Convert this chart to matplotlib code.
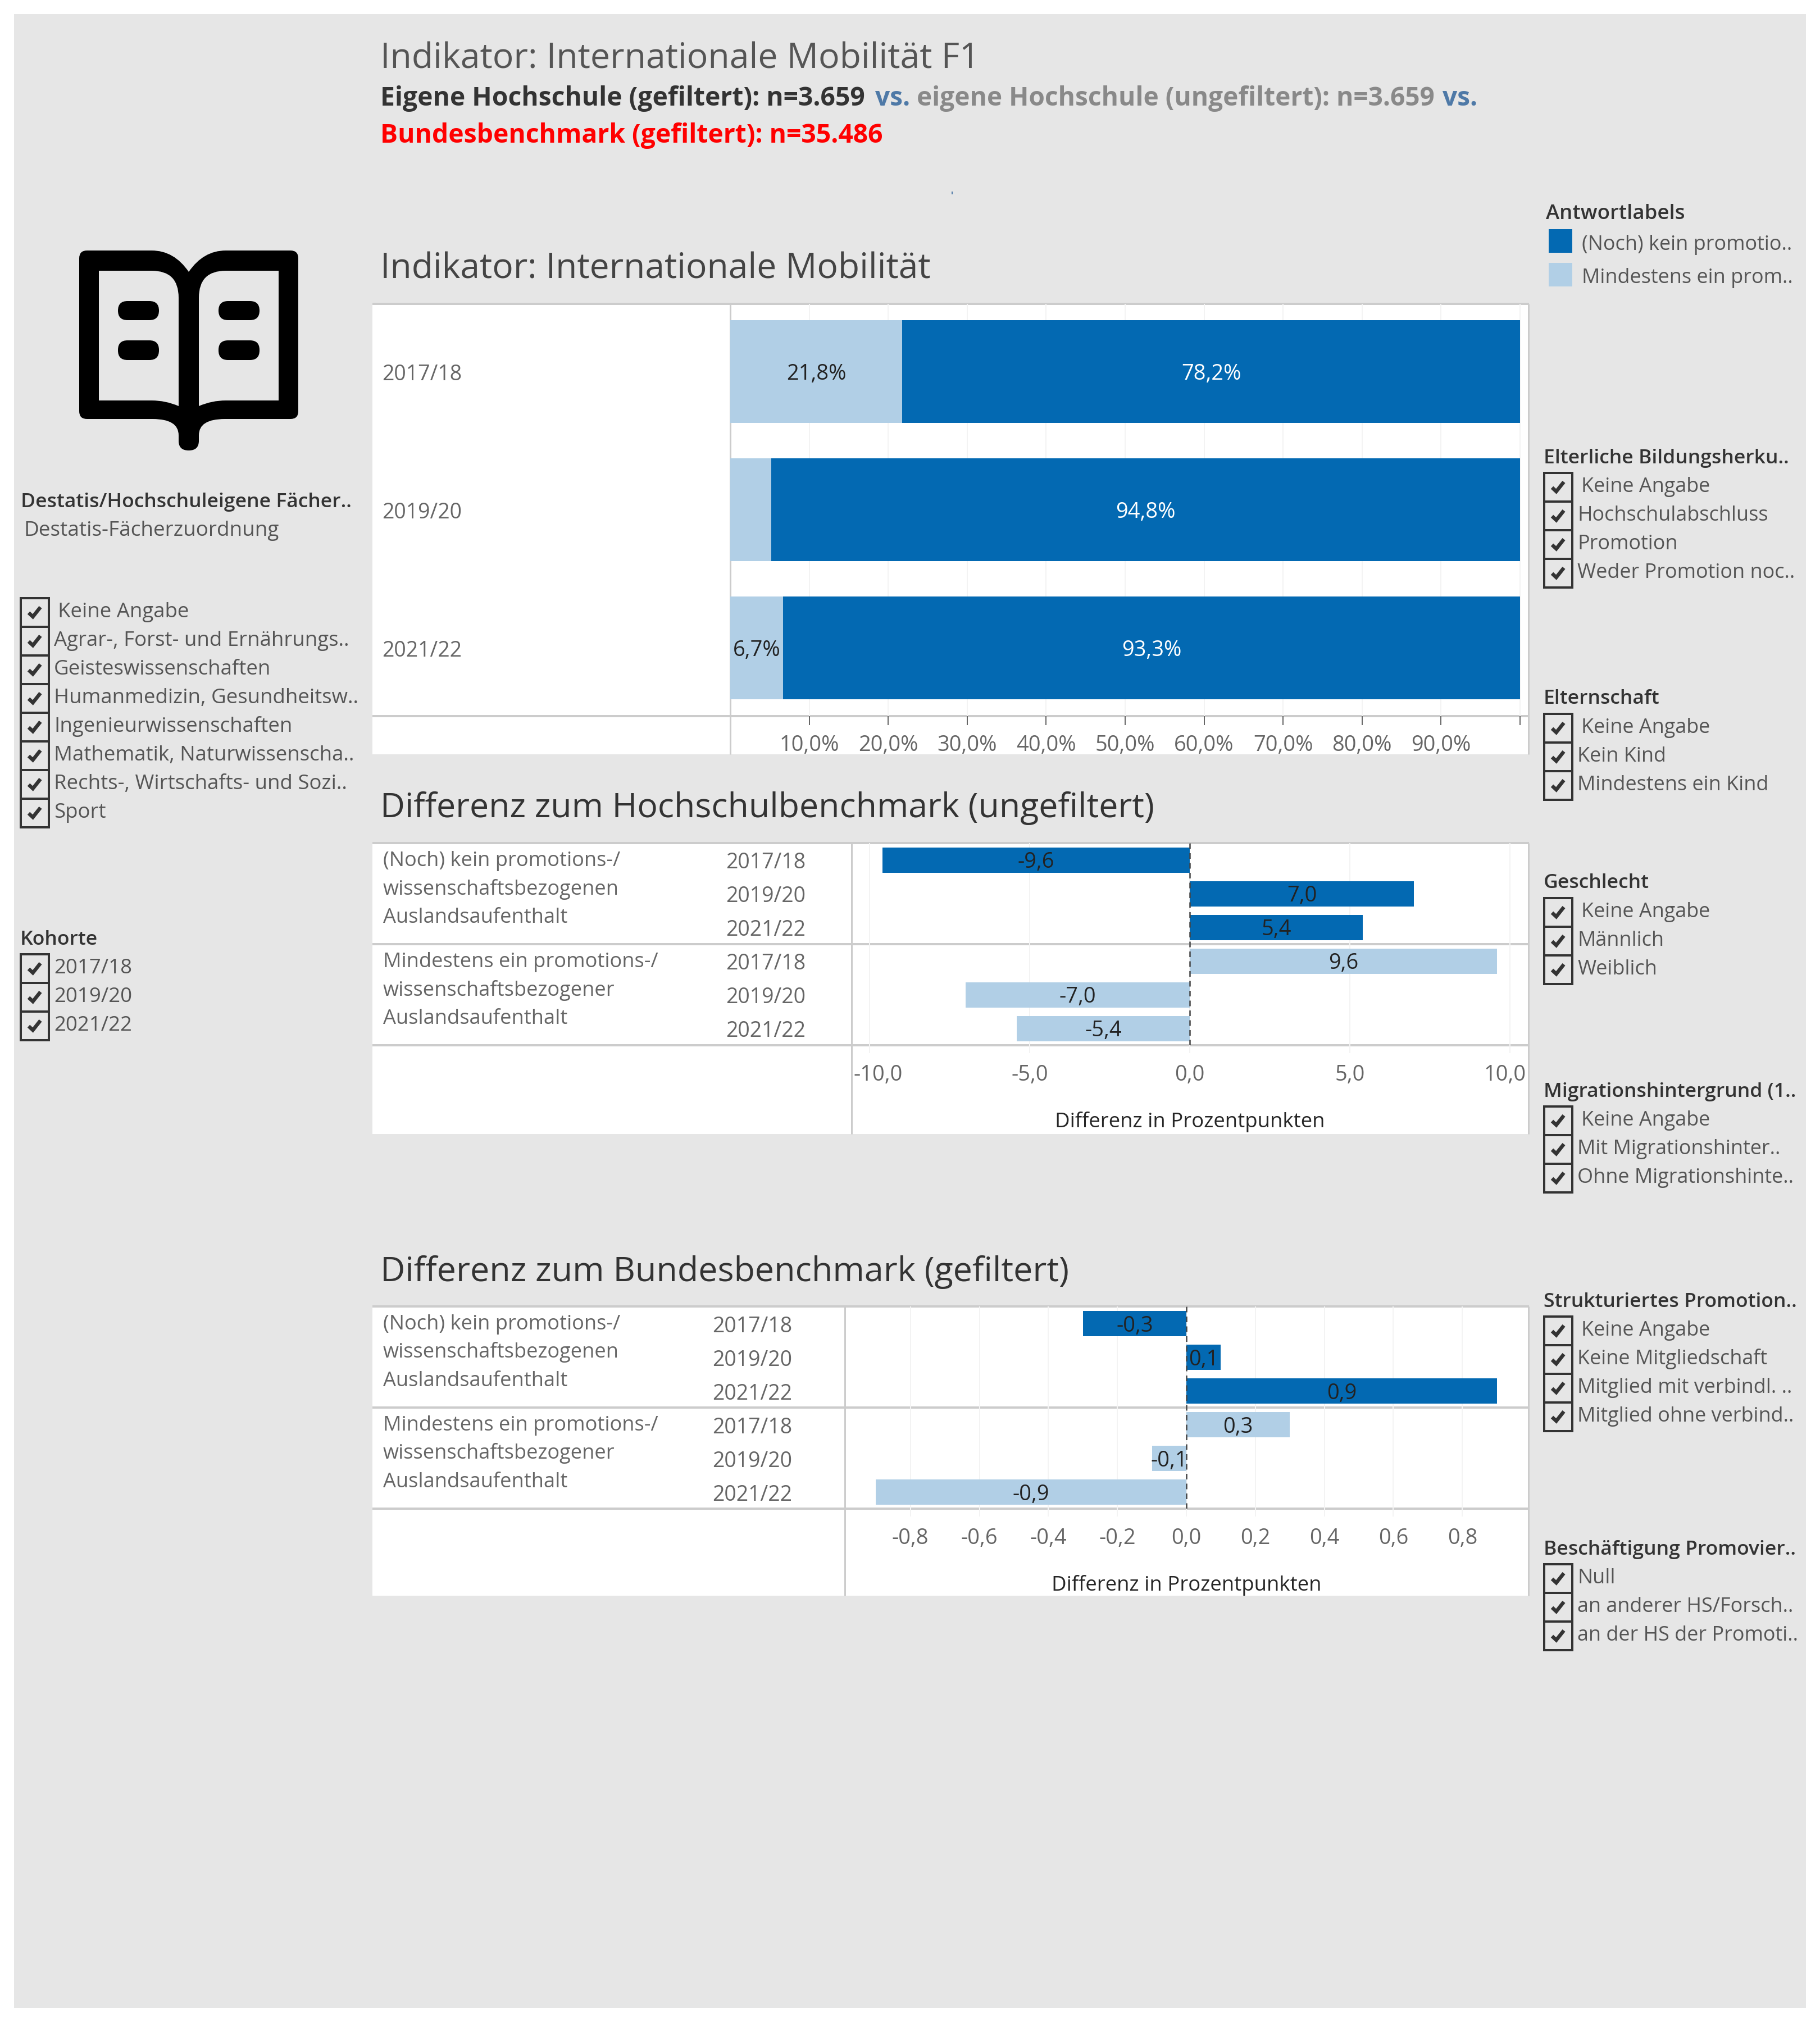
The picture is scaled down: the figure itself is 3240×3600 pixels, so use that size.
import matplotlib
matplotlib.use('Agg')
import matplotlib.pyplot as plt
from matplotlib.patches import Rectangle, FancyBboxPatch, PathPatch
from matplotlib.path import Path
from matplotlib.transforms import ScaledTranslation

plt.rcParams['font.family'] = ['Open Sans', 'DejaVu Sans']

# data
years = ['2017/18', '2019/20', '2021/22']
kein_promotion = [78.2, 94.8, 93.3]
mindestens_ein = [21.8, 5.2, 6.7]
pct_ticks = [10, 20, 30, 40, 50, 60, 70, 80, 90, 100]
pct_labels = ['10,0%', '20,0%', '30,0%', '40,0%', '50,0%', '60,0%', '70,0%', '80,0%', '90,0%', '']

hs_diff = [-9.6, 7.0, 5.4, 9.6, -7.0, -5.4]
hs_ticks = [-10, -5, 0, 5, 10]
hs_tick_labels = ['-10,0', '-5,0', '0,0', '5,0', '10,0']

bund_diff = [-0.3, 0.1, 0.9, 0.3, -0.1, -0.9]
bund_ticks = [-0.8, -0.6, -0.4, -0.2, 0.0, 0.2, 0.4, 0.6, 0.8]
bund_tick_labels = ['-0,8', '-0,6', '-0,4', '-0,2', '0,0', '0,2', '0,4', '0,6', '0,8']

row_lines_a = ['(Noch) kein promotions-/', 'wissenschaftsbezogenen', 'Auslandsaufenthalt']
row_lines_b = ['Mindestens ein promotions-/', 'wissenschaftsbezogener', 'Auslandsaufenthalt']

faecher = ['Keine Angabe', 'Agrar-, Forst- und Ernährungs..', 'Geisteswissenschaften',
           'Humanmedizin, Gesundheitsw..', 'Ingenieurwissenschaften',
           'Mathematik, Naturwissenscha..', 'Rechts-, Wirtschafts- und Sozi..', 'Sport']
bildung = ['Keine Angabe', 'Hochschulabschluss', 'Promotion', 'Weder Promotion noc..']
eltern = ['Keine Angabe', 'Kein Kind', 'Mindestens ein Kind']
geschlecht = ['Keine Angabe', 'Männlich', 'Weiblich']
migration = ['Keine Angabe', 'Mit Migrationshinter..', 'Ohne Migrationshinte..']
struktur = ['Keine Angabe', 'Keine Mitgliedschaft', 'Mitglied mit verbindl. ..', 'Mitglied ohne verbind..']
beschaeftigung = ['Null', 'an anderer HS/Forsch..', 'an der HS der Promoti..']

DARK = '#0369B2'
LIGHT = '#B1CFE6'
BG = '#E6E6E6'
LINE = '#CCCCCC'
GRID = '#F3F3F3'
TXT = '#666666'

W, H = 3240, 3600
DPI = 100
def pt(px):
    return px * 72 / DPI

fig = plt.figure(figsize=(W / DPI, H / DPI), dpi=DPI, facecolor='white')
bg = fig.add_axes([0, 0, 1, 1])
bg.set_xlim(0, W)
bg.set_ylim(H, 0)
bg.axis('off')

def add_axes_px(x0, y0, x1, y1):
    ax = fig.add_axes([x0 / W, 1 - y1 / H, (x1 - x0) / W, (y1 - y0) / H])
    ax.patch.set_alpha(0)
    for s in ax.spines.values():
        s.set_visible(False)
    return ax

def label(x, y, s, size=36, color='#555555', weight='normal', **kw):
    bg.text(x, y, s, fontsize=pt(size), color=color, fontweight=weight, va='baseline', **kw)

def rect(x0, y0, x1, y1, color):
    bg.add_patch(Rectangle((x0, y0), x1 - x0, y1 - y0, facecolor=color, edgecolor='none'))

rect(25, 25, 3215, 3575, BG)

# titles
label(677, 122, 'Indikator: Internationale Mobilität F1', 62.5, '#555555')
label(677, 188, 'Eigene Hochschule (gefiltert): n=3.659', 46.3, '#333333', 'bold')
label(1558, 188, 'vs.', 46, '#4E79A7', 'bold')
label(1632, 188, 'eigene Hochschule (ungefiltert): n=3.659', 46, '#898989', 'bold')
label(2568, 188, 'vs.', 46, '#4E79A7', 'bold')
label(677, 254, 'Bundesbenchmark (gefiltert): n=35.486', 46.3, '#FF0000', 'bold')
label(677, 496, 'Indikator: Internationale Mobilität', 62.3, '#444444')
label(677, 1455, 'Differenz zum Hochschulbenchmark (ungefiltert)', 60.7, '#333333')
label(677, 2281, 'Differenz zum Bundesbenchmark (gefiltert)', 61, '#333333')
bg.plot([1695, 1695], [342, 345], color='#4E79A7', lw=pt(2))

# white panels and their rules
def panel(y0, y1, xdiv, rules):
    rect(663, y0, 2720, y1, 'white')
    for yy in rules:
        bg.plot([663, 2722], [yy, yy], color=LINE, lw=pt(4), solid_capstyle='butt')
    bg.plot([xdiv, xdiv], [y0, y1], color=LINE, lw=pt(3), solid_capstyle='butt')
    bg.plot([2721, 2721], [y0, y1], color=LINE, lw=pt(3), solid_capstyle='butt')

panel(541, 1343, 1300, [541, 1275])
panel(1501, 2019, 1516, [1501, 1681, 1861])
panel(2326, 2841, 1504, [2326, 2506, 2686])

# stacked chart
ax = add_axes_px(1300, 541, 2720, 1275)
ax.barh(range(3), mindestens_ein, height=0.745, color=LIGHT, zorder=2)
ax.barh(range(3), kein_promotion, left=mindestens_ein, height=0.745, color=DARK, zorder=2)
ax.set_xlim(0, 101)
ax.set_ylim(2.496, -0.49)
ax.set_xticks(pct_ticks, pct_labels)
ax.set_yticks(range(3), years, ha='left')
ax.grid(axis='x', color=GRID, lw=pt(2))
ax.set_axisbelow(True)
ax.tick_params(axis='x', length=pt(16), width=pt(2), color='#666666', labelcolor=TXT,
               labelsize=pt(38), pad=pt(17))
ax.tick_params(axis='y', length=0, labelcolor=TXT, labelsize=pt(37.5), pad=pt(620))
for lab in ax.get_yticklabels():
    lab.set_transform(lab.get_transform() + ScaledTranslation(0, -0.01, fig.dpi_scale_trans))
for i in range(3):
    if mindestens_ein[i] > 6:
        ax.text(mindestens_ein[i] / 2, i, f'{mindestens_ein[i]:.1f}%'.replace('.', ','),
                ha='center', va='center_baseline', color='#222222', fontsize=pt(38), zorder=3)
    ax.text(mindestens_ein[i] + kein_promotion[i] / 2, i, f'{kein_promotion[i]:.1f}%'.replace('.', ','),
            ha='center', va='center_baseline', color='white', fontsize=pt(38), zorder=3)

# difference charts
def diff_chart(y0, xdiv, xmax, values, ticks, tick_labels, year_pad, shift_ends):
    ax = add_axes_px(xdiv, y0, 2720, y0 + 360)
    colors = [DARK] * 3 + [LIGHT] * 3
    ax.barh(range(6), values, height=0.75, color=colors, zorder=2)
    ax.axvline(0, color='#444444', lw=pt(2.5), ls=(0, (4, 3)), zorder=3)
    ax.set_xlim(-xmax, xmax)
    ax.set_ylim(5.5, -0.5)
    ax.set_xticks(ticks, tick_labels)
    ax.set_yticks(range(6), years * 2)
    ax.grid(axis='x', color=GRID, lw=pt(2))
    ax.set_axisbelow(True)
    ax.tick_params(axis='x', length=pt(14), width=pt(2), color=GRID, labelcolor=TXT,
                   labelsize=pt(38), pad=pt(20))
    ax.tick_params(axis='y', length=0, labelcolor=TXT, labelsize=pt(37.5), pad=pt(year_pad))
    ax.set_xlabel('Differenz in Prozentpunkten', fontsize=pt(36.5), color='#262626',
                  fontweight='medium', labelpad=pt(46))
    for i, v in enumerate(values):
        ax.text(v / 2, i, f'{v:.1f}'.replace('.', ','), ha='center', va='center_baseline',
                color='#222222', fontsize=pt(38), zorder=4)
    for lab in ax.get_yticklabels():
        lab.set_transform(lab.get_transform() + ScaledTranslation(0, -0.01, fig.dpi_scale_trans))
    if shift_ends:
        labs = ax.get_xticklabels()
        labs[0].set_transform(labs[0].get_transform() + ScaledTranslation(0.15, 0, fig.dpi_scale_trans))
        labs[-1].set_transform(labs[-1].get_transform() + ScaledTranslation(-0.09, 0, fig.dpi_scale_trans))
    return ax

diff_chart(1501, 1516, 10.56, hs_diff, hs_ticks, hs_tick_labels, 82, True)
diff_chart(2326, 1504, 0.99, bund_diff, bund_ticks, bund_tick_labels, 94, False)

for yy, lines in [(1542, row_lines_a), (1722, row_lines_b), (2367, row_lines_a), (2547, row_lines_b)]:
    for k, s in enumerate(lines):
        label(682, yy + k * 50.5, s, 36.3, TXT)

# book icon
def pill(x0, y0, x1, y1):
    bg.add_patch(FancyBboxPatch((x0 + 17, y0 + 17), x1 - x0 - 34, y1 - y0 - 34,
                                boxstyle='round,pad=17', facecolor='black', edgecolor='none'))

M, L, C, Z = Path.MOVETO, Path.LINETO, Path.CURVE3, Path.CLOSEPOLY
book = [(M, (155, 446)), (L, (270, 446)), (C, (310, 446)), (C, (336, 484)), (C, (362, 446)), (C, (402, 446)),
        (L, (517, 446)), (C, (531, 446)), (C, (531, 460)), (L, (531, 732)), (C, (531, 746)), (C, (517, 746)),
        (L, (400, 746)), (C, (354, 746)), (C, (354, 775)), (L, (354, 785)), (C, (354, 802)), (C, (336, 802)),
        (C, (318, 802)), (C, (318, 785)), (L, (318, 775)), (C, (318, 746)), (C, (272, 746)),
        (L, (155, 746)), (C, (141, 746)), (C, (141, 732)), (L, (141, 460)), (C, (141, 446)), (C, (155, 446)), (Z, (155, 446))]
bg.add_patch(PathPatch(Path([p for _, p in book], [c for c, _ in book]), facecolor='black', edgecolor='none'))
page_l = [(M, (176, 482)), (L, (270, 482)), (C, (318, 482)), (C, (318, 530)), (L, (318, 723)), (C, (295, 713)), (C, (270, 713)),
          (L, (176, 713)), (Z, (176, 482))]
page_r = [(M, (496, 482)), (L, (402, 482)), (C, (354, 482)), (C, (354, 530)), (L, (354, 723)), (C, (377, 713)), (C, (402, 713)),
          (L, (496, 713)), (Z, (496, 482))]
for page in (page_l, page_r):
    bg.add_patch(PathPatch(Path([p for _, p in page], [c for c, _ in page]), facecolor=BG, edgecolor='none'))
for px0, px1 in [(210, 283), (389, 462)]:
    pill(px0, 536, px1, 570)
    pill(px0, 606, px1, 641)

# filter lists
def filters(x, header, header_y, items, first_y, indent_first=True, size=36):
    if header:
        label(x - 1, header_y, header, 35.5, '#333333', 'semibold')
    for i, s in enumerate(items):
        cy = first_y + i * 51
        bg.add_patch(Rectangle((x, cy - 25.5), 50, 51, facecolor='none', edgecolor='#333333', lw=pt(4)))
        bg.plot([x + 14, x + 21.5, x + 35], [cy + 1, cy + 8, cy - 9], color='#333333', lw=pt(6.5),
                solid_capstyle='butt', solid_joinstyle='miter')
        dx = 16 if i == 0 and indent_first else 9
        label(x + 50 + dx, cy + 9, s, size, '#555555')

label(37, 903, 'Destatis/Hochschuleigene Fächer..', 35.5, '#333333', 'semibold')
label(42, 954, 'Destatis-Fächerzuordnung', 37, '#555555')
filters(37, None, 0, faecher, 1090, size=36.6)
filters(37, 'Kohorte', 1682, years, 1724, indent_first=False, size=36.6)

# legend
label(2752, 390, 'Antwortlabels', 36.5, '#333333', 'semibold')
rect(2757, 408, 2799, 450, DARK)
rect(2757, 468, 2799, 510, LIGHT)
label(2816, 445, '(Noch) kein promotio..', 36, '#555555')
label(2816, 504, 'Mindestens ein prom..', 36, '#555555')

filters(2749, 'Elterliche Bildungsherku..', 825, bildung, 867)
filters(2749, 'Elternschaft', 1253, eltern, 1296)
filters(2749, 'Geschlecht', 1581, geschlecht, 1624)
filters(2749, 'Migrationshintergrund (1..', 1953, migration, 1995)
filters(2749, 'Strukturiertes Promotion..', 2327, struktur, 2369)
filters(2749, 'Beschäftigung Promovier..', 2768, beschaeftigung, 2810, indent_first=False)

fig.savefig('out.png', dpi=DPI)
